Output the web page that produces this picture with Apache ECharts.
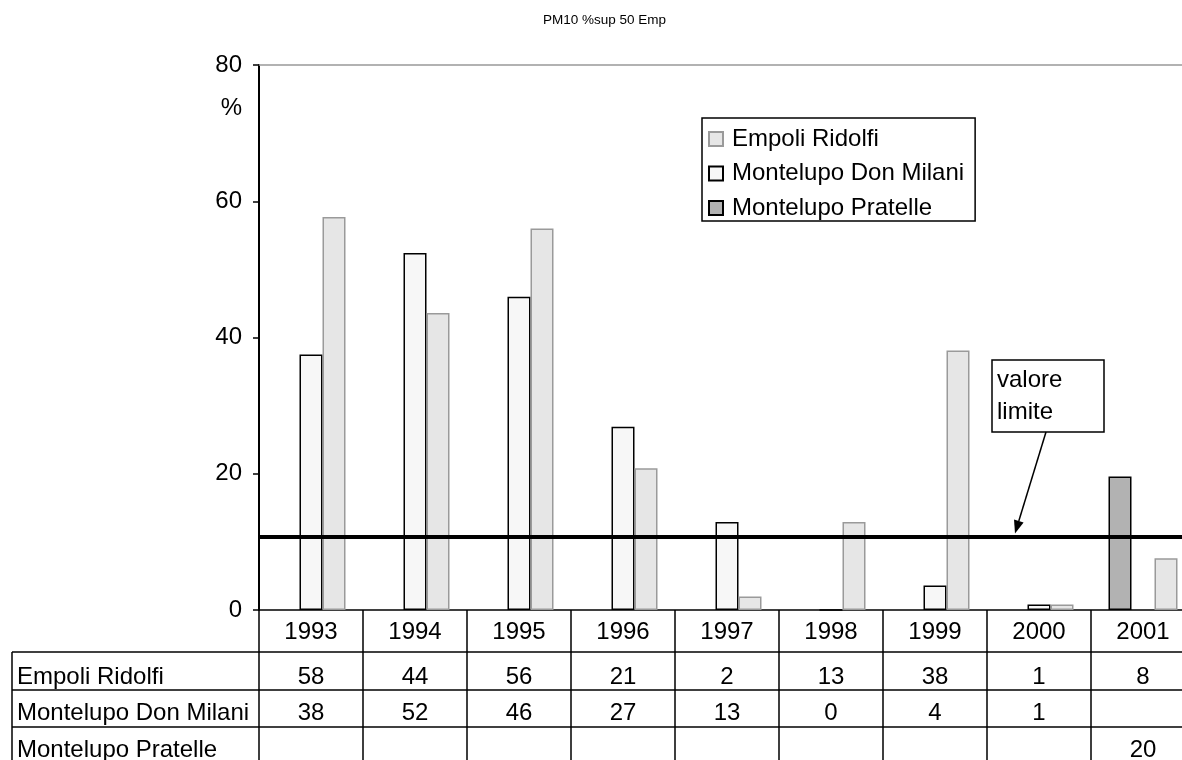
<!DOCTYPE html>
<html>
<head>
<meta charset="utf-8">
<script src="https://cdn.jsdelivr.net/npm/echarts@6/dist/echarts.min.js"></script>
<style>
html,body{margin:0;padding:0;background:#fff;}
#chart{width:1182px;height:760px;}
</style>
</head>
<body>
<div id="chart"></div>
<script>
// ---- data ----
var years = ['1993','1994','1995','1996','1997','1998','1999','2000','2001'];
var seriesNames = ['Empoli Ridolfi','Montelupo Don Milani','Montelupo Pratelle'];
var empoliRidolfi      = [57.7, 43.6, 56.0, 20.8, 2.0, 12.9, 38.1, 0.8, 7.6];
var montelupoDonMilani = [37.5, 52.4, 46.0, 26.9, 12.9, 0, 3.6, 0.8, null];
var montelupoPratelle  = [null, null, null, null, null, null, null, null, 19.6];
var limitValue = 10.8;
var yTicks = {min: 0, max: 80, interval: 20};
var titleText = 'PM10 %sup 50 Emp';
var unitText = '%';
var noteText = 'valore\nlimite';

var FONT = "'Liberation Sans', Arial, sans-serif";
var chart = echarts.init(document.getElementById('chart'), null, {renderer: 'canvas'});

var styles = {
  'Empoli Ridolfi': {color: '#e6e6e6', borderColor: '#9a9a9a', borderWidth: 1.5},
  'Montelupo Don Milani': {color: '#f7f7f7', borderColor: '#000000', borderWidth: 1.5},
  'Montelupo Pratelle': {color: '#b2b2b2', borderColor: '#000000', borderWidth: 1.5}
};
var dataBy = {
  'Empoli Ridolfi': empoliRidolfi,
  'Montelupo Don Milani': montelupoDonMilani,
  'Montelupo Pratelle': montelupoPratelle
};
// bar order within a category: Pratelle, Don Milani, Empoli
var barOrder = ['Montelupo Pratelle', 'Montelupo Don Milani', 'Empoli Ridolfi'];

var series = barOrder.map(function (name, i) {
  var s = {
    name: name,
    type: 'bar',
    data: dataBy[name],
    barWidth: 23,
    barGap: '0%',
    itemStyle: styles[name],
    emphasis: {disabled: true},
    animation: false
  };
  if (name === 'Empoli Ridolfi') {
    s.markLine = {
      silent: true,
      symbol: ['none', 'none'],
      label: {show: false},
      lineStyle: {color: '#000', width: 4, type: 'solid'},
      data: [{yAxis: limitValue}],
      animation: false
    };
  }
  return s;
});

var option = {
  animation: false,
  backgroundColor: '#ffffff',
  textStyle: {fontFamily: FONT},
  title: {
    text: titleText,
    left: 538, top: 8,
    textStyle: {fontSize: 13.5, fontWeight: 'normal', color: '#000', fontFamily: FONT}
  },
  legend: {
    data: seriesNames,
    orient: 'vertical',
    left: 702, top: 118,
    padding: [9, 11, 1, 6],
    itemGap: 10.5,
    itemWidth: 14, itemHeight: 14,
    icon: 'rect',
    borderColor: '#000', borderWidth: 1.5,
    backgroundColor: '#fff',
    textStyle: {fontSize: 24, color: '#000', fontFamily: FONT, padding: [0, 0, 0, 4]},
    selectedMode: false
  },
  grid: {left: 259, top: 65, width: 936, height: 545, containLabel: false, outerBoundsMode: 'none'},
  xAxis: [{
    type: 'category',
    data: years,
    position: 'bottom',
    axisLine: {show: true, lineStyle: {color: '#000', width: 1.5}},
    axisTick: {show: true, length: 152, lineStyle: {color: '#000', width: 1.5}},
    axisLabel: {fontSize: 24, color: '#000', margin: 10, fontFamily: FONT},
    splitLine: {show: false}
  }, {
    type: 'category',
    data: years,
    position: 'top',
    axisLine: {show: true, lineStyle: {color: '#999', width: 1.5}},
    axisTick: {show: false},
    axisLabel: {show: false},
    splitLine: {show: false}
  }],
  yAxis: {
    type: 'value',
    min: yTicks.min, max: yTicks.max, interval: yTicks.interval,
    axisLine: {show: true, lineStyle: {color: '#000', width: 2}},
    axisTick: {show: true, length: 6, lineStyle: {color: '#000', width: 1.5}},
    axisLabel: {fontSize: 24, color: '#000', margin: 17, fontFamily: FONT},
    splitLine: {show: false}
  },
  series: series
};
chart.setOption(option);

// ---- data table and annotation, positioned through the chart's scales ----
var gfx = [];
var tableLeft = 12, rightEdge = 1182;
var rowTops = [652, 690, 727];
var rowBaselineMid = [677, 713, 750.5];
rowTops.forEach(function (y) {
  gfx.push({type: 'line', shape: {x1: tableLeft, y1: y, x2: rightEdge, y2: y},
    style: {stroke: '#000', lineWidth: 1.5}, silent: true, z: 10});
});
gfx.push({type: 'line', shape: {x1: tableLeft, y1: rowTops[0], x2: tableLeft, y2: 760},
  style: {stroke: '#000', lineWidth: 1.5}, silent: true, z: 10});

seriesNames.forEach(function (name, r) {
  gfx.push({type: 'text', x: 17, y: rowBaselineMid[r], silent: true, z: 10,
    style: {text: name, fontSize: 24, fill: '#000', font: '24px ' + FONT,
      align: 'left', verticalAlign: 'middle'}});
  var vals = dataBy[name];
  years.forEach(function (yr, c) {
    var v = vals[c];
    if (v === null || v === undefined) return;
    var px = chart.convertToPixel({xAxisIndex: 0}, yr);
    gfx.push({type: 'text', x: px, y: rowBaselineMid[r], silent: true, z: 10,
      style: {text: String(Math.round(v)), font: '24px ' + FONT, fill: '#000',
        align: 'center', verticalAlign: 'middle'}});
  });
});

// unit label
var p80 = chart.convertToPixel({yAxisIndex: 0}, 80);
gfx.push({type: 'text', x: 242, y: p80 + 43, silent: true, z: 10,
  style: {text: unitText, font: '24px ' + FONT, fill: '#000', align: 'right', verticalAlign: 'middle'}});

// "valore limite" callout
var tipY = chart.convertToPixel({yAxisIndex: 0}, limitValue) - 3;
var tipX = 1015;
var boxX = 992, boxY = 360, boxW = 112, boxH = 72;
gfx.push({type: 'rect', shape: {x: boxX, y: boxY, width: boxW, height: boxH},
  style: {fill: '#fff', stroke: '#000', lineWidth: 1.5}, silent: true, z: 20});
gfx.push({type: 'text', x: boxX + 5, y: boxY + 4, silent: true, z: 21,
  style: {text: noteText, font: '24px ' + FONT, fill: '#000', lineHeight: 32,
    align: 'left', verticalAlign: 'top'}});
var sx = 1046, sy = boxY + boxH;
var dx = tipX - sx, dy = tipY - sy, len = Math.sqrt(dx * dx + dy * dy);
var ux = dx / len, uy = dy / len;
var hl = 13, hw = 5;
var bx = tipX - ux * hl, by = tipY - uy * hl;
gfx.push({type: 'line', shape: {x1: sx, y1: sy, x2: bx, y2: by},
  style: {stroke: '#000', lineWidth: 1.5}, silent: true, z: 20});
gfx.push({type: 'polygon', shape: {points: [[tipX, tipY], [bx - uy * hw, by + ux * hw], [bx + uy * hw, by - ux * hw]]},
  style: {fill: '#000'}, silent: true, z: 20});

chart.setOption({graphic: gfx});
</script>
</body>
</html>
